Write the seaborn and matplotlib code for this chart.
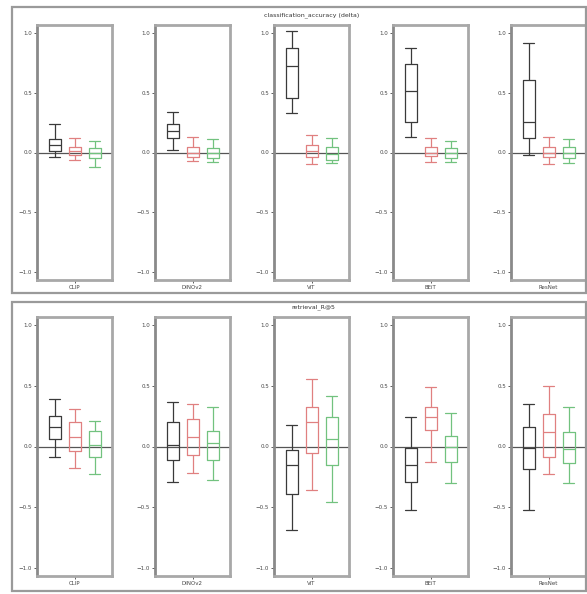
import numpy as np
import pandas as pd
import seaborn as sns
import matplotlib
matplotlib.use("Agg")
import matplotlib.pyplot as plt
from matplotlib.patches import Rectangle

# Backbones (one panel each) and the three compared methods (one box each)
models = ["CLIP", "DINOv2", "ViT", "BEiT", "ResNet"]
methods = ["baseline", "finetune", "random"]
row_titles = ["classification_accuracy (delta)", "retrieval_R@5"]
y_ticks = [-1.0, -0.5, 0.0, 0.5, 1.0]

# Five-number summaries per model: [min, q1, median, q3, max]
top_baseline = [[-0.04, 0.01, 0.06, 0.11, 0.24],
                [0.025, 0.125, 0.18, 0.24, 0.34],
                [0.33, 0.46, 0.73, 0.875, 1.02],
                [0.13, 0.26, 0.52, 0.74, 0.875],
                [-0.02, 0.125, 0.26, 0.61, 0.92]]
top_finetune = [[-0.06, -0.025, 0.01, 0.05, 0.12],
                [-0.07, -0.04, 0.0, 0.05, 0.13],
                [-0.10, -0.04, 0.01, 0.06, 0.15],
                [-0.08, -0.03, 0.0, 0.05, 0.12],
                [-0.10, -0.04, 0.0, 0.05, 0.13]]
top_random = [[-0.12, -0.05, 0.0, 0.04, 0.10],
              [-0.08, -0.05, 0.0, 0.04, 0.11],
              [-0.09, -0.06, -0.01, 0.05, 0.12],
              [-0.08, -0.05, 0.0, 0.04, 0.10],
              [-0.09, -0.05, 0.0, 0.05, 0.11]]

bottom_baseline = [[-0.09, 0.06, 0.16, 0.25, 0.39],
                   [-0.29, -0.11, 0.01, 0.20, 0.37],
                   [-0.69, -0.39, -0.15, -0.025, 0.18],
                   [-0.525, -0.29, -0.15, -0.01, 0.24],
                   [-0.525, -0.19, -0.01, 0.16, 0.35]]
bottom_finetune = [[-0.175, -0.04, 0.08, 0.20, 0.31],
                   [-0.22, -0.07, 0.08, 0.225, 0.35],
                   [-0.36, -0.05, 0.20, 0.33, 0.56],
                   [-0.125, 0.14, 0.24, 0.325, 0.49],
                   [-0.23, -0.09, 0.12, 0.27, 0.50]]
bottom_random = [[-0.23, -0.09, 0.01, 0.125, 0.21],
                 [-0.275, -0.11, 0.03, 0.125, 0.325],
                 [-0.46, -0.15, 0.06, 0.24, 0.42],
                 [-0.30, -0.125, 0.0, 0.09, 0.28],
                 [-0.30, -0.14, -0.02, 0.12, 0.325]]

palette = {"baseline": "#3a3a3a", "finetune": "#e08080", "random": "#72c27f"}


def long_table(per_method):
    rows = []
    for method, summaries in zip(methods, per_method):
        for model, five in zip(models, summaries):
            for v in five:
                rows.append((model, method, v))
    return pd.DataFrame(rows, columns=["model", "method", "delta"])


tables = [long_table([top_baseline, top_finetune, top_random]),
          long_table([bottom_baseline, bottom_finetune, bottom_random])]

sns.set_theme(style="white")
plt.rcParams["font.family"] = ["DejaVu Sans"]

W, H = 587, 594
fig = plt.figure(figsize=(W / 100, H / 100), dpi=100)
fig.patch.set_facecolor("white")


def px_box(x0, y0, x1, y1):
    return [x0 / W, 1 - y1 / H, (x1 - x0) / W, (y1 - y0) / H]


# framed row containers
for (y0, y1) in [(7, 293), (302, 591)]:
    fig.add_artist(Rectangle((12 / W, 1 - y1 / H), (586 - 12) / W, (y1 - y0) / H,
                             transform=fig.transFigure, fill=False,
                             edgecolor="#9a9a9a", linewidth=1.6))

fig.text(312 / W, 1 - 15 / H, row_titles[0], ha="center", va="center",
         fontsize=4.5, color="#333333")
fig.text(313 / W, 1 - 307 / H, row_titles[1], ha="center", va="center",
         fontsize=4.5, color="#333333")

lefts = [37, 155, 274, 393, 511]
rows_y = [(25, 280), (317, 576)]
ylim = (-1.07, 1.07)

for r, df in enumerate(tables):
    ty, by = rows_y[r]
    for i, model in enumerate(models):
        ax = fig.add_axes(px_box(lefts[i], ty, lefts[i] + 75, by))
        sub = df[df["model"] == model]
        sns.boxplot(data=sub, x="model", y="delta", hue="method",
                    hue_order=methods, palette=palette, fill=False,
                    whis=(0, 100), width=0.8, gap=0.4, linewidth=0.9,
                    legend=False, ax=ax)
        # widen the whisker caps to roughly the box width
        spans = [abs(l.get_xdata()[1] - l.get_xdata()[0]) for l in ax.lines
                 if len(l.get_xdata()) == 2]
        box_w = max(spans) if spans else 0
        for line in ax.lines:
            xd, yd = np.asarray(line.get_xdata(), float), np.asarray(line.get_ydata(), float)
            if len(xd) == 2 and yd[0] == yd[1] and 0 < abs(xd[1] - xd[0]) < 0.9 * box_w:
                c = xd.mean()
                line.set_xdata([c - 0.42 * box_w, c + 0.42 * box_w])
        ax.axhline(0, color="#555555", linewidth=0.9, zorder=0)
        ax.set_xlim(-0.5, 0.5)
        ax.set_ylim(*ylim)
        ax.set_yticks(y_ticks)
        ax.set_xlabel("")
        ax.set_ylabel("")
        ax.tick_params(axis="both", labelsize=4, length=2, width=0.6,
                       pad=1.5, colors="#444444", left=True, bottom=True)
        for side, sp in ax.spines.items():
            sp.set_linewidth(2.0)
            sp.set_color("#a8a8a8")
        ax.spines["left"].set_color("#8a8a8a")

fig.savefig("out.png", dpi=100, facecolor="white")
